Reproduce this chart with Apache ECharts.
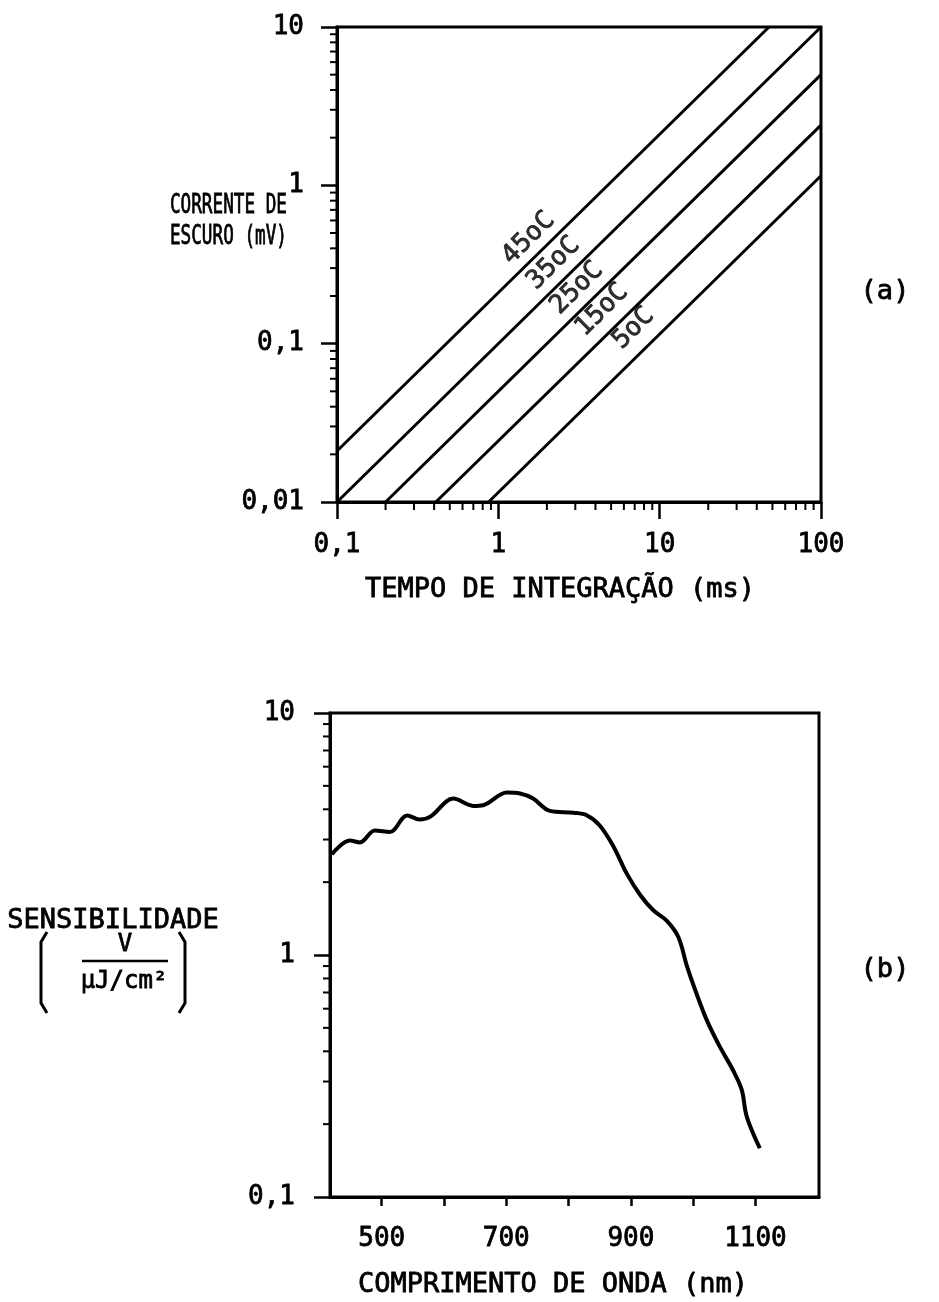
<!DOCTYPE html>
<html><head><meta charset="utf-8">
<script src="https://cdn.jsdelivr.net/npm/echarts@6/dist/echarts.min.js"></script>
<style>html,body{margin:0;padding:0;background:#fff}#c{width:939px;height:1302px}</style>
</head><body><div id="c"></div>
<script>
// ---------- DATA: chart (a) ----------
const tempLabels = ['45oC', '35oC', '25oC', '15oC', '5oC'];
const line45 = [[0.1, 0.021], [47.6, 10]];
const line35 = [[0.1, 0.01], [100, 10]];
const line25 = [[0.2, 0.01], [100, 5]];
const line15 = [[0.41, 0.01], [100, 2.4]];
const line5  = [[0.87, 0.01], [100, 1.15]];
const tempLabelPos = [[1.54, 0.463], [2.2, 0.322], [3.07, 0.224], [4.39, 0.163], [6.89, 0.125]];
const topXTicks = [0.1, 1, 10, 100];
const topXTickLabels = ['0,1', '1', '10', '100'];
const topYTicks = [0.01, 0.1, 1, 10];
const topYTickLabels = ['0,01', '0,1', '1', '10'];
const topXMinor = [0.2,0.3,0.4,0.5,0.6,0.7,0.8,0.9,2,3,4,5,6,7,8,9,20,30,40,50,60,70,80,90];
const topYMinor = [0.02,0.03,0.04,0.05,0.06,0.07,0.08,0.09,0.2,0.3,0.4,0.5,0.6,0.7,0.8,0.9,2,3,4,5,6,7,8,9];

// ---------- DATA: chart (b) ----------
const wavelength = [420,449,465,489,513,541,561,578,615,647,663,701,722,743,770,808,829,850,872,893,915,936,957,976,990,1003,1022,1043,1064,1078,1086,1107];
const sensitivity = [2.61,2.97,2.92,3.27,3.22,3.77,3.63,3.73,4.43,4.13,4.16,4.69,4.65,4.43,3.94,3.87,3.78,3.43,2.81,2.18,1.77,1.53,1.39,1.19,0.90,0.72,0.537,0.417,0.334,0.277,0.215,0.159];
const botXRange = [417, 1202];
const botXTicks = [500, 600, 700, 800, 900, 1000, 1100];
const botXTickLabels = [500, 700, 900, 1100];
const botYTicks = [0.1, 1, 10];
const botYTickLabels = ['0,1', '1', '10'];
const botYMinor = [0.2,0.3,0.4,0.5,0.6,0.7,0.8,0.9,2,3,4,5,6,7,8,9];

const FONT = "'DejaVu Sans Mono', 'Liberation Mono', monospace";
const chart = echarts.init(document.getElementById('c'), null, {renderer: 'canvas'});

function lookup(ticks, labels) {
  return function (v) {
    for (let i = 0; i < ticks.length; i++) {
      if (Math.abs(Math.log10(v) - Math.log10(ticks[i])) < 1e-6) return labels[i];
    }
    return '';
  };
}
function tickSeries(dir, len, values, fixed, xi, yi) {
  return {
    type: 'custom', coordinateSystem: 'cartesian2d', xAxisIndex: xi, yAxisIndex: yi,
    clip: false, silent: true, animation: false, z: 5,
    data: values.map(v => dir === 'x' ? [v, fixed] : [fixed, v]),
    renderItem: function (params, api) {
      const p = api.coord([api.value(0), api.value(1)]);
      const x2 = dir === 'x' ? p[0] : p[0] - len;
      const y2 = dir === 'x' ? p[1] + len : p[1];
      return {type: 'line', shape: {x1: p[0], y1: p[1], x2: x2, y2: y2},
              style: {stroke: '#000', lineWidth: 2}};
    }
  };
}
function lineSeries(data) {
  return {type: 'line', xAxisIndex: 0, yAxisIndex: 0, data: data, showSymbol: false,
          symbol: 'none', lineStyle: {color: '#000', width: 3}, animation: false, silent: true};
}
const axisTxt = {color: '#000', fontFamily: FONT, fontSize: 26, textBorderColor: '#000', textBorderWidth: 0.8};
function txt(text, x, y, size, align, scaleX) {
  return {type: 'text', x: x, y: y, scaleX: scaleX || 1,
          style: {text: text, x: 0, y: 0, font: size + 'px ' + FONT, fill: '#000',
                  stroke: '#000', lineWidth: 0.8,
                  textAlign: align || 'center', textVerticalAlign: 'middle'}};
}

const option = {
  backgroundColor: '#fff',
  animation: false,
  grid: [
    {left: 337, top: 27, width: 484, height: 475, show: true, borderColor: '#000', borderWidth: 3, backgroundColor: 'transparent'},
    {left: 330, top: 713, width: 489, height: 484, show: true, borderColor: '#000', borderWidth: 3, backgroundColor: 'transparent'}
  ],
  xAxis: [
    {type: 'log', logBase: 10, gridIndex: 0, min: topXTicks[0], max: topXTicks[topXTicks.length - 1],
     axisLine: {lineStyle: {color: '#000', width: 3}},
     axisTick: {show: true, inside: false, length: 17, lineStyle: {color: '#000', width: 2.5}},
     axisLabel: Object.assign({margin: 30, formatter: lookup(topXTicks, topXTickLabels)}, axisTxt),
     splitLine: {show: false}, minorTick: {show: false}},
    {type: 'value', gridIndex: 1, min: botXRange[0], max: botXRange[1],
     axisLine: {lineStyle: {color: '#000', width: 3}},
     axisTick: {show: true, inside: false, length: 9, customValues: botXTicks, lineStyle: {color: '#000', width: 2.5}},
     axisLabel: Object.assign({margin: 29, customValues: botXTickLabels, formatter: v => String(v)}, axisTxt),
     splitLine: {show: false}}
  ],
  yAxis: [
    {type: 'log', logBase: 10, gridIndex: 0, min: topYTicks[0], max: topYTicks[topYTicks.length - 1],
     axisLine: {lineStyle: {color: '#000', width: 3}},
     axisTick: {show: true, inside: false, length: 16, lineStyle: {color: '#000', width: 2.5}},
     axisLabel: Object.assign({margin: 33, formatter: lookup(topYTicks, topYTickLabels)}, axisTxt),
     splitLine: {show: false}},
    {type: 'log', logBase: 10, gridIndex: 1, min: botYTicks[0], max: botYTicks[botYTicks.length - 1],
     axisLine: {lineStyle: {color: '#000', width: 3}},
     axisTick: {show: true, inside: false, length: 16, lineStyle: {color: '#000', width: 2.5}},
     axisLabel: Object.assign({margin: 35, formatter: lookup(botYTicks, botYTickLabels)}, axisTxt),
     splitLine: {show: false}}
  ],
  series: [
    lineSeries(line45), lineSeries(line35), lineSeries(line25), lineSeries(line15), lineSeries(line5),
    {type: 'scatter', xAxisIndex: 0, yAxisIndex: 0, symbolSize: 1, itemStyle: {color: 'transparent'},
     silent: true, animation: false, z: 6,
     data: tempLabelPos.map((p, i) => ({value: p, name: tempLabels[i]})),
     label: {show: true, position: 'inside', rotate: 45, formatter: p => p.name,
             color: '#000', fontFamily: FONT, fontSize: 26, textBorderColor: '#000', textBorderWidth: 0.8}},
    tickSeries('x', 8, topXMinor, topYTicks[0], 0, 0),
    tickSeries('y', 7, topYMinor, topXTicks[0], 0, 0),
    {type: 'line', xAxisIndex: 1, yAxisIndex: 1, data: wavelength.map((w, i) => [w, sensitivity[i]]),
     showSymbol: false, symbol: 'none', smooth: 0.35, lineStyle: {color: '#000', width: 4},
     animation: false, silent: true},
    tickSeries('y', 7, botYMinor, botXRange[0], 1, 1)
  ],
  graphic: [
    txt('CORRENTE DE', 287, 206, 26, 'right', 0.68),
    txt('ESCURO (mV)', 287, 237, 26, 'right', 0.68),
    txt('(a)', 885, 292, 27),
    txt('TEMPO DE INTEGRAÇÃO (ms)', 560, 590, 27),
    txt('SENSIBILIDADE', 113, 921, 27),
    txt('V', 125, 945, 24),
    {type: 'line', shape: {x1: 82, y1: 961, x2: 168, y2: 961}, style: {stroke: '#000', lineWidth: 2.5}},
    txt('μJ/cm²', 124, 982, 24),
    {type: 'polyline', shape: {points: [[47, 932], [41, 942], [41, 1003], [47, 1013]]}, style: {stroke: '#000', lineWidth: 3, fill: null}},
    {type: 'polyline', shape: {points: [[179, 932], [185, 942], [185, 1003], [179, 1013]]}, style: {stroke: '#000', lineWidth: 3, fill: null}},
    txt('(b)', 885, 970, 27),
    txt('COMPRIMENTO DE ONDA (nm)', 553, 1285, 27)
  ]
};
chart.setOption(option);
</script>
</body></html>
